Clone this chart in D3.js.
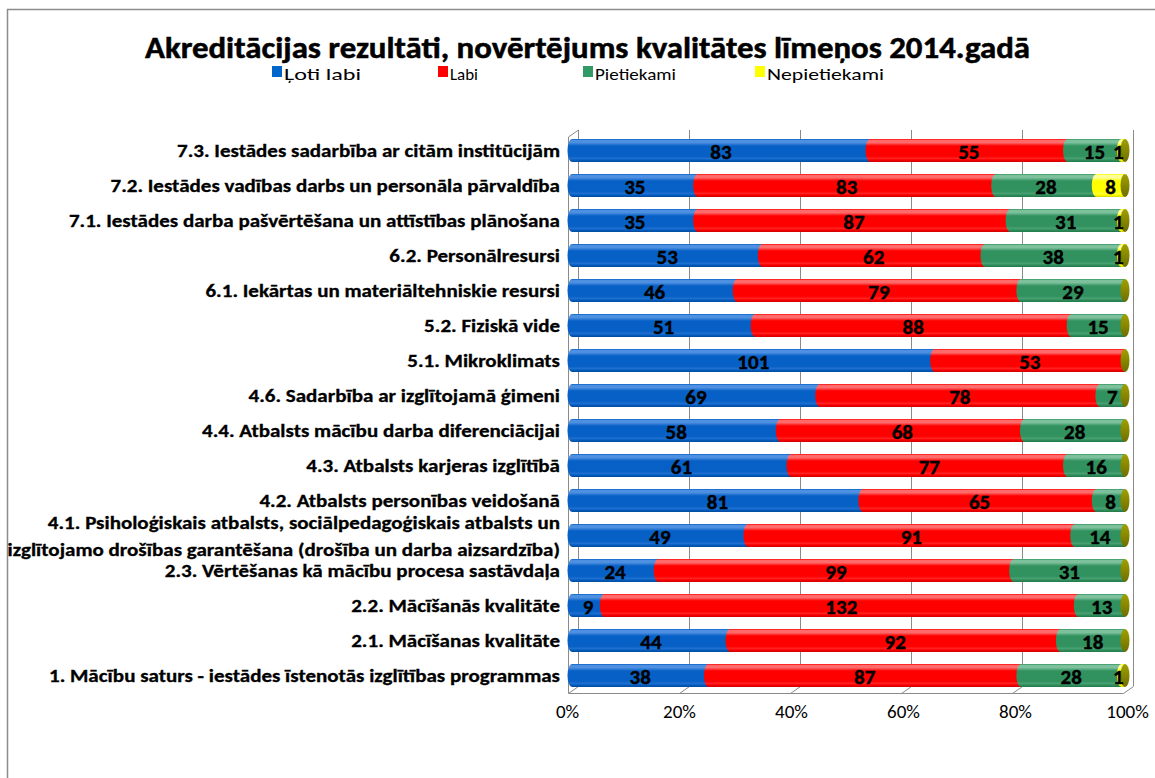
<!DOCTYPE html>
<html>
<head>
<meta charset="utf-8">
<script src="https://cdn.jsdelivr.net/npm/d3@7"></script>
<style>
  html, body { margin: 0; padding: 0; background: #fff; }
  svg { display: block; }
</style>
</head>
<body>
<svg id="chart" width="1155" height="778"></svg>
<script>
// ---------- DATA ----------
const title = "Akreditācijas rezultāti, novērtējums kvalitātes līmeņos 2014.gadā";
const seriesNames = ["Ļoti labi", "Labi", "Pietiekami", "Nepietiekami"];
const categories = [
  "7.3. Iestādes sadarbība ar citām institūcijām",
  "7.2. Iestādes vadības darbs un personāla pārvaldība",
  "7.1. Iestādes darba pašvērtēšana un attīstības plānošana",
  "6.2. Personālresursi",
  "6.1. Iekārtas un materiāltehniskie resursi",
  "5.2. Fiziskā vide",
  "5.1. Mikroklimats",
  "4.6. Sadarbība ar izglītojamā ģimeni",
  "4.4. Atbalsts mācību darba diferenciācijai",
  "4.3. Atbalsts karjeras izglītībā",
  "4.2. Atbalsts personības veidošanā",
  "4.1. Psiholoģiskais atbalsts, sociālpedagoģiskais atbalsts un|izglītojamo drošības garantēšana (drošība un darba aizsardzība)",
  "2.3. Vērtēšanas kā mācību procesa sastāvdaļa",
  "2.2. Mācīšanās kvalitāte",
  "2.1. Mācīšanas kvalitāte",
  "1. Mācību saturs - iestādes īstenotās izglītības programmas"
];
const lotiLabi    = [83, 35, 35, 53, 46, 51, 101, 69, 58, 61, 81, 49, 24,   9, 44, 38];
const labi        = [55, 83, 87, 62, 79, 88,  53, 78, 68, 77, 65, 91, 99, 132, 92, 87];
const pietiekami  = [15, 28, 31, 38, 29, 15,   0,  7, 28, 16,  8, 14, 31,  13, 18, 28];
const nepietiekami= [ 1,  8,  1,  1,  0,  0,   0,  0,  0,  0,  0,  0,  0,   0,  0,  1];
const xTicks = [0, 0.2, 0.4, 0.6, 0.8, 1.0];
const xTickLabels = ["0%", "20%", "40%", "60%", "80%", "100%"];

// ---------- STYLE ----------
const FONT = "Carlito, Lato, 'Open Sans', 'DejaVu Sans', sans-serif";
const colors = [
  {top: "#4d8fe0", main: "#0760c6", bot: "#004a9a"},
  {top: "#ff6a6a", main: "#ff0000", bot: "#cc0000"},
  {top: "#7cc09c", main: "#31925f", bot: "#23784a"},
  {top: "#ffff99", main: "#ffff00", bot: "#d6d600"}
];
const legendColors = ["#0066cc", "#ff0000", "#339966", "#ffff00"];
const capColor = "#878700";
const gridColor = "#8a8a8a";

const svg = d3.select("#chart");
const defs = svg.append("defs");
colors.forEach((c, i) => {
  const g = defs.append("linearGradient").attr("id", "grad" + i)
    .attr("x1", 0).attr("y1", 0).attr("x2", 0).attr("y2", 1);
  [[0, c.main], [0.06, c.top], [0.16, c.top], [0.3, c.main], [0.75, c.main], [0.86, d3.interpolateRgb(c.main, c.top)(0.35)], [0.9, c.main], [1, c.bot]]
    .forEach(([o, col]) => g.append("stop").attr("offset", o).attr("stop-color", col));
});
const cg = defs.append("linearGradient").attr("id", "capgrad").attr("x1", 0).attr("y1", 0).attr("x2", 0).attr("y2", 1);
[[0, "#a0a000"], [0.5, capColor], [1, "#6e6e00"]].forEach(([o, col]) => cg.append("stop").attr("offset", o).attr("stop-color", col));

// outer chart border (only top/left visible in frame)
svg.append("path").attr("d", "M7.5,778 L7.5,9.5 L1155,9.5").attr("fill", "none").attr("stroke", "#8c8c8c").attr("stroke-width", 1.5);

// ---------- SCALES ----------
const depthY = 7;
const xBack = d3.scaleLinear().domain([0, 1]).range([578, 1133]);
const xFront = d3.scaleLinear().domain([0, 1]).range([568, 1123]);
const xBar = d3.scaleLinear().domain([0, 1]).range([572, 1125]);
const xLab = d3.scaleLinear().domain([0, 1]).range([567, 1127]);
const y = d3.scaleBand().domain(categories).range([133, 693]).paddingInner(0.343).paddingOuter(0.1715);
const floorY = 693, backTop = 130, backBottom = floorY - depthY;

// ---------- WALLS / GRID ----------
const grid = svg.append("g").attr("stroke", gridColor).attr("stroke-width", 1).attr("fill", "none");
xTicks.forEach(t => {
  const xb = Math.round(xBack(t)) + 0.5;
  grid.append("line").attr("x1", xb).attr("x2", xb).attr("y1", backTop).attr("y2", backBottom);
  const xf = Math.round(xFront(t)) + 0.5;
  grid.append("line").attr("x1", xf).attr("y1", floorY + 0.5).attr("x2", xb).attr("y2", backBottom + 0.5);
});
const xl = Math.round(xFront(0)) + 0.5;
grid.append("line").attr("x1", xl).attr("x2", xl).attr("y1", backTop + depthY).attr("y2", floorY);
grid.append("line").attr("x1", xl).attr("y1", backTop + depthY).attr("x2", Math.round(xBack(0)) + 0.5).attr("y2", backTop);
grid.append("line").attr("x1", xl).attr("x2", Math.round(xFront(1)) + 0.5).attr("y1", floorY + 0.5).attr("y2", floorY + 0.5);

// ---------- BARS ----------
const series = [lotiLabi, labi, pietiekami, nepietiekami];
const bh = y.bandwidth();
const rx = 4.5;
const barsG = svg.append("g");
const labelsG = svg.append("g").attr("font-family", FONT).attr("font-weight", "bold").attr("font-size", 21)
  .attr("text-anchor", "middle").attr("fill", "#000").attr("stroke", "#000").attr("stroke-width", 0.4);

categories.forEach((cat, i) => {
  const total = series.reduce((s, arr) => s + arr[i], 0);
  const top = y(cat), bot = top + bh, ry = bh / 2;
  let cum = 0;
  series.forEach((arr, si) => {
    const v = arr[i];
    if (v <= 0) { return; }
    const xs = xBar(cum / total), xe = xBar((cum + v) / total);
    cum += v;
    const p = `M${xe},${top} L${xs},${top} A${rx},${ry} 0 0 0 ${xs},${bot} L${xe},${bot} Z`;
    barsG.append("path").attr("d", p).attr("fill", `url(#grad${si})`);
    labelsG.append("text")
      .attr("x", (xs + xe) / 2 - (v / total < 0.02 ? 5 : 0))
      .attr("y", top + ry + 1.5)
      .attr("dominant-baseline", "central")
      .text(v);
  });
  barsG.append("ellipse").attr("cx", xBar(1)).attr("cy", top + ry).attr("rx", rx).attr("ry", ry).attr("fill", "url(#capgrad)");
});
labelsG.raise();

// ---------- CATEGORY LABELS ----------
const catG = svg.append("g").attr("font-family", FONT).attr("font-weight", "bold").attr("font-size", 17.5)
  .attr("text-anchor", "end").attr("fill", "#000").attr("stroke", "#000").attr("stroke-width", 0.3);
const labelRight = 560;
const refWidth = 511; // width of the longest single-line label in reference
let k = 1;
{
  const t = catG.append("text").text(categories[15]);
  k = refWidth / t.node().getComputedTextLength();
  t.remove();
}
categories.forEach(cat => {
  const cy = y(cat) + bh / 2;
  const lines = cat.split("|");
  const offsets = lines.length === 1 ? [0] : [-13, 14];
  lines.forEach((ln, j) => {
    const t = catG.append("text").attr("x", labelRight).attr("y", cy + offsets[j]).attr("dominant-baseline", "central").text(ln);
    const w = t.node().getComputedTextLength();
    t.attr("textLength", w * k).attr("lengthAdjust", "spacingAndGlyphs");
  });
});

// ---------- X AXIS LABELS ----------
const axis = d3.axisBottom(xLab).tickValues(xTicks).tickFormat((d, i) => xTickLabels[i]).tickSize(0).tickPadding(0);
const axG = svg.append("g").attr("transform", `translate(0,${704})`).call(axis);
axG.select(".domain").remove();
axG.selectAll("text").attr("font-family", FONT).attr("font-size", 19).attr("fill", "#000").attr("dy", "0.71em");

// ---------- TITLE ----------
const tt = svg.append("text").attr("x", 587.5).attr("y", 58).attr("text-anchor", "middle")
  .attr("font-family", FONT).attr("font-weight", "bold").attr("font-size", 30).attr("fill", "#000")
  .attr("stroke", "#000").attr("stroke-width", 0.5).text(title);
tt.attr("textLength", 885).attr("lengthAdjust", "spacingAndGlyphs");

// ---------- LEGEND ----------
const legendX = [272, 438, 583, 755];
const legendTextW = [77, 28, 81, 117];
const lg = svg.append("g").attr("font-family", FONT).attr("font-size", 17).attr("fill", "#000");
seriesNames.forEach((n, i) => {
  lg.append("rect").attr("x", legendX[i]).attr("y", 66).attr("width", 10).attr("height", 11).attr("fill", legendColors[i]);
  lg.append("text").attr("x", legendX[i] + 12).attr("y", 80).text(n)
    .attr("textLength", legendTextW[i]).attr("lengthAdjust", "spacingAndGlyphs");
});
</script>
</body>
</html>
